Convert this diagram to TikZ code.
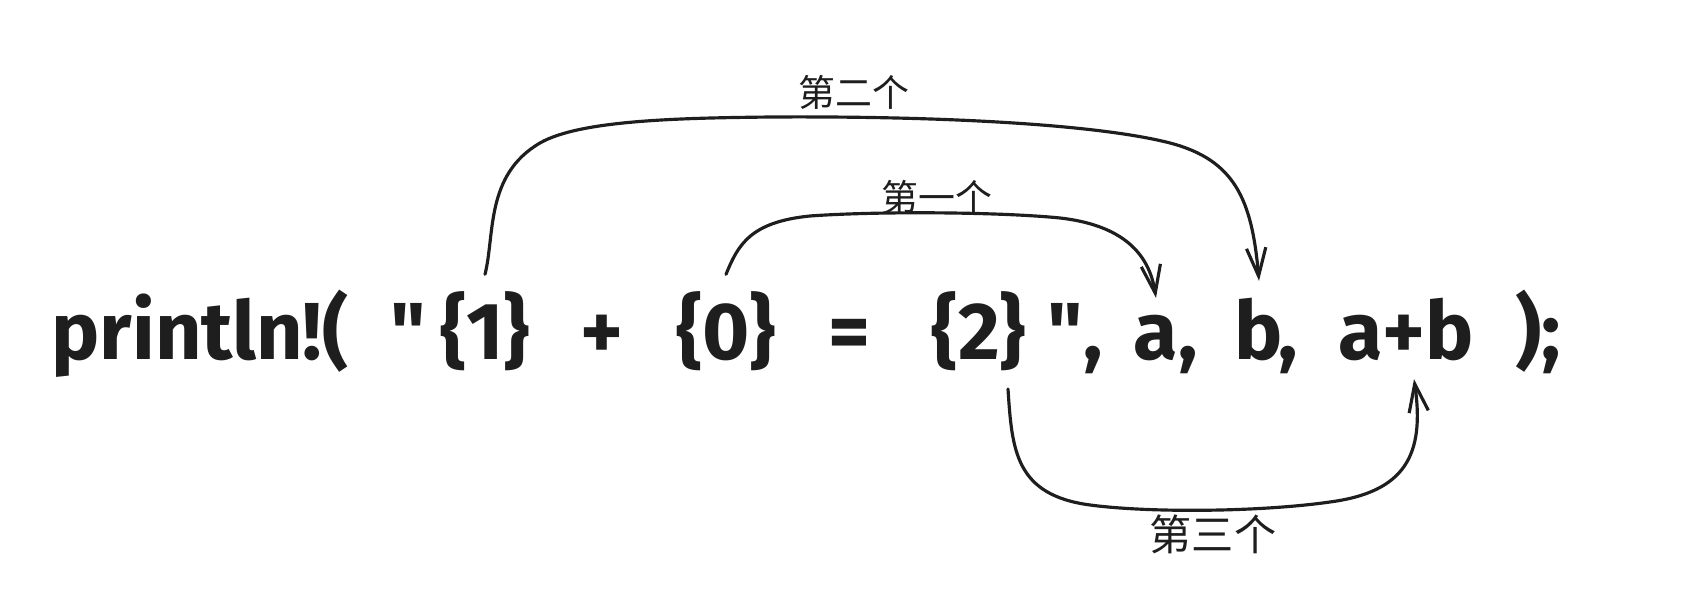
\documentclass[tikz,border=0pt]{standalone}
\usepackage{fontspec}
\setmainfont{Fira Sans}
\newfontfamily\cjk{Noto Sans CJK SC}
\usetikzlibrary{calc}
\usetikzlibrary{arrows.meta}
\definecolor{ink}{HTML}{1E1E1E}

\tikzset{
  code/.style={anchor=base, inner sep=0.17cm, text=ink, font=\fontsize{23}{28}\selectfont\bfseries},
  tag/.style={text=ink, inner sep=0pt, font=\cjk\fontsize{10.5}{12}\selectfont},
  link/.style={ink, line width=0.9pt, line cap=round, -{Straight Barb[length=8pt,width=5.5pt]}}
}

\begin{document}
\begin{tikzpicture}[x=0.01cm,y=-0.01cm]
\useasboundingbox (0,0) rectangle (1681,601);

% the line of code, one node per token
\node[code] (print) at (200,360) {println!(};
\node[code] (q1) at (408,360) {\textquotedbl};
\node[code] (one) at (485,360) {\{1\}};
\node[code] (plus) at (602,360) {+};
\node[code] (zero) at (726,360) {\{0\}};
\node[code] (eq) at (849,360) {=};
\node[code] (two) at (979,360) {\{2\}};
\node[code] (q2) at (1075,360) {\textquotedbl,};
\node[code] (a) at (1156,360) {a};
\node[code] (c1) at (1188,360) {,};
\node[code] (b) at (1259,360) {b};
\node[code] (c2) at (1288,360) {,};
\node[code] (sum) at (1406,360) {a+b};
\node[code] (close) at (1538,360) {);};

\draw[link] (one.north) .. controls (495,235) and (485,175) .. (540,143)
  .. controls (580,120) and (680,118) .. (773,117)
  .. controls (950,116) and (1100,125) .. (1170,143)
  .. controls (1235,160) and (1252,200) .. (b.north);
\node[tag] (second) at (854,92) {第二个};

\draw[link] (zero.north) .. controls (738,245) and (750,222) .. (810,216)
  .. controls (880,211) and (1000,212) .. (1060,218)
  .. controls (1130,226) and (1150,260) .. (a.north);
\node[tag] (first) at (937,197) {第一个};

\draw[link] ($(two.south)+(29,0)$) .. controls (1012,450) and (1015,495) .. (1090,505)
  .. controls (1150,513) and (1260,512) .. (1330,502)
  .. controls (1405,492) and (1425,455) .. ($(sum.south)+(8,0)$);
\node[tag, font=\cjk\fontsize{12}{14}\selectfont] (third) at (1213,534) {第三个};

\end{tikzpicture}
\end{document}
